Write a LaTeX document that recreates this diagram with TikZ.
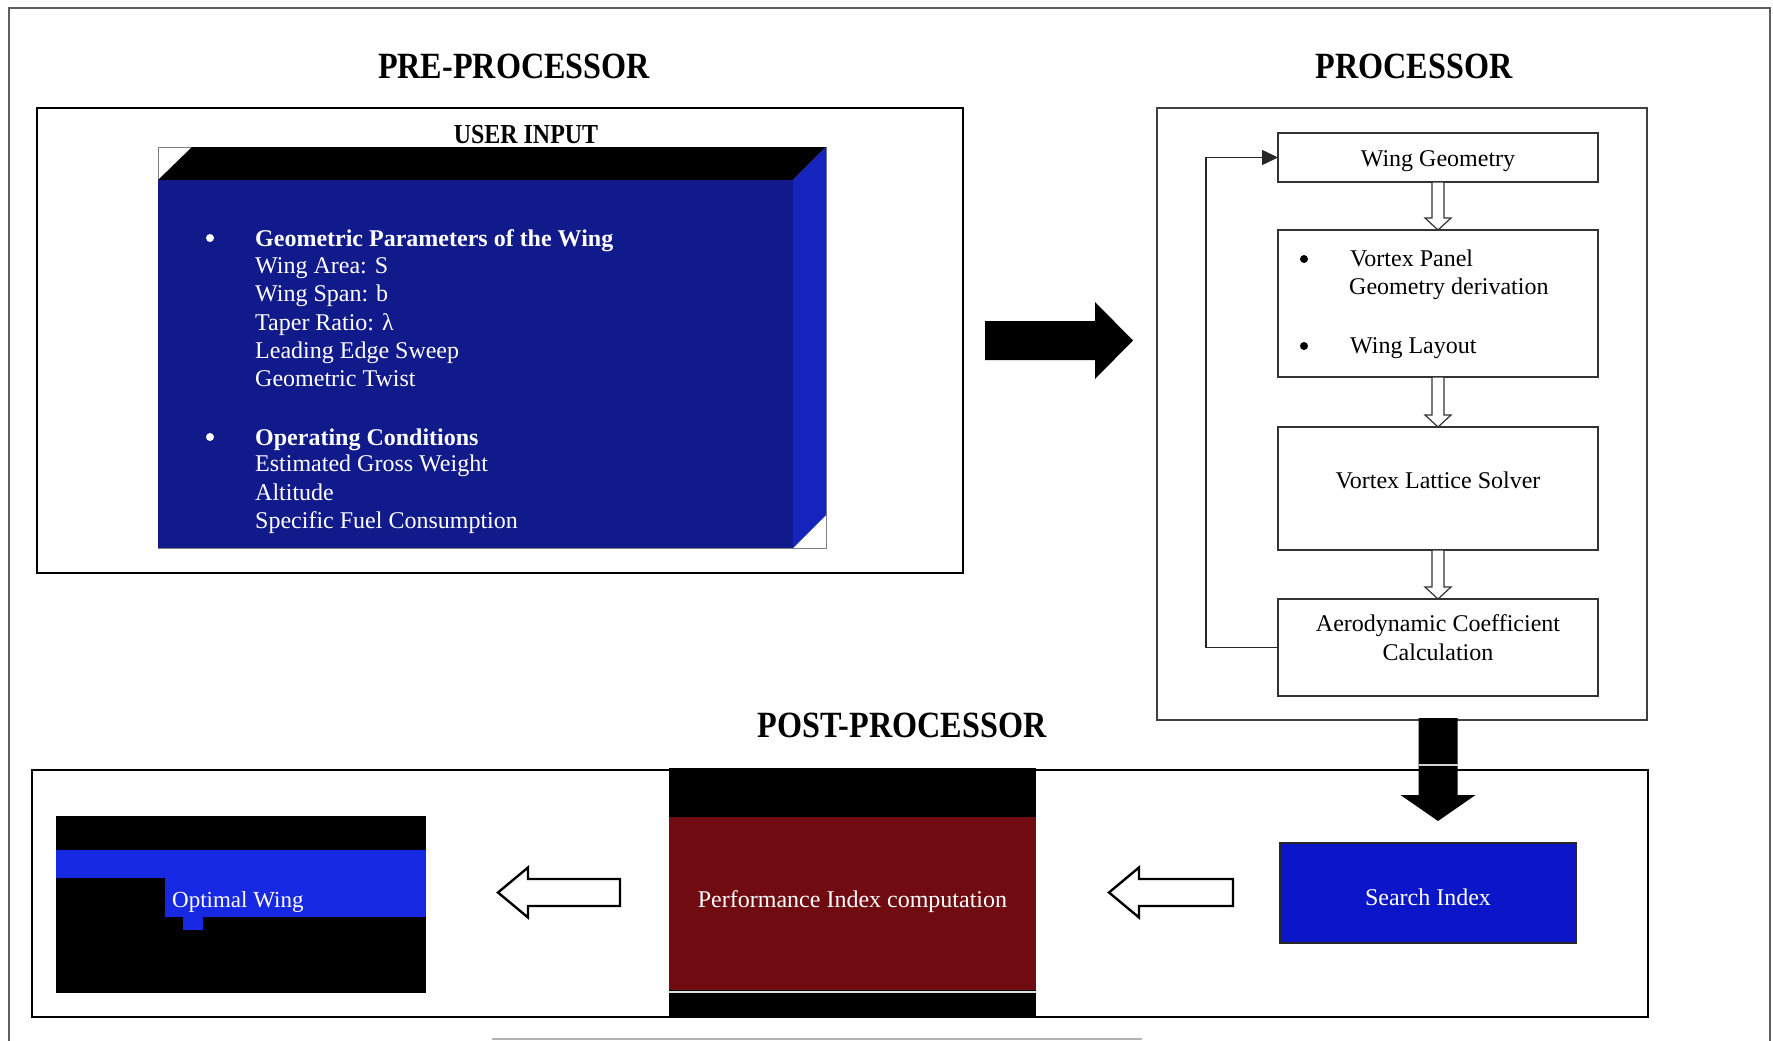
\documentclass[tikz,border=0pt]{standalone}
\usepackage{fontspec}
\setmainfont{Liberation Serif}
\newfontfamily\titlefont[FakeStretch=0.87]{Liberation Serif}
\usetikzlibrary{calc,arrows.meta}

\definecolor{navyface}{RGB}{17,26,138}
\definecolor{sideface}{RGB}{22,36,190}
\definecolor{brightblue}{RGB}{22,40,225}
\definecolor{searchblue}{RGB}{10,22,200}
\definecolor{perfred}{RGB}{112,12,17}
\definecolor{framegray}{RGB}{95,95,95}

\newcommand{\hollowdown}[2]{%
  \draw[smallarr] let \p1=(#1), \p2=(#2) in
    (\x1-6pt,\y1) -- (\x1+6pt,\y1) -- (\x1+6pt,\y2+12pt) -- (\x1+13pt,\y2+12pt)
    -- (\x1,\y2) -- (\x1-13pt,\y2+12pt) -- (\x1-6pt,\y2+12pt) -- cycle;}
\newcommand{\hollowleft}[2]{%
  \draw[bigarr] let \p1=(#1), \p2=(#2) in
    (\x1,\y1-13.5pt) -- (\x2+30pt,\y1-13.5pt) -- (\x2+30pt,\y1-25pt) -- (\x2,\y1)
    -- (\x2+30pt,\y1+25pt) -- (\x2+30pt,\y1+13.5pt) -- (\x1,\y1+13.5pt) -- cycle;}

\begin{document}
\begin{tikzpicture}[x=1pt,y=-1pt,
  ttl/.style={font=\titlefont\bfseries\fontsize{37}{40}\selectfont, anchor=base, inner sep=0pt},
  subttl/.style={font=\titlefont\bfseries\fontsize{27.5}{30}\selectfont, anchor=base, inner sep=0pt},
  panel/.style={draw=black, line width=2pt, anchor=north west, inner sep=0pt, outer sep=0pt},
  ppanel/.style={draw=black!75, line width=1.5pt, anchor=north west, inner sep=0pt, outer sep=0pt},
  stepbox/.style={draw=black!80, line width=1.5pt, anchor=north west, inner sep=0pt, outer sep=0pt},
  flat/.style={anchor=north west, inner sep=0pt, outer sep=0pt},
  wtxt/.style={text=white, font=\fontsize{24}{28}\selectfont, anchor=base west, inner sep=0pt},
  btxt/.style={text=black, font=\fontsize{24}{28}\selectfont, anchor=base west, inner sep=0pt},
  ctxt/.style={font=\fontsize{24}{28}\selectfont, anchor=base, inner sep=0pt},
  bul/.style={circle, inner sep=0pt, minimum size=8pt},
  smallarr/.style={draw=black!80, line width=1.2pt, fill=white},
  bigarr/.style={draw=black, line width=2.4pt, fill=white, line join=miter},
]
\useasboundingbox (0,0) rectangle (1773,1041);
\fill[white] (0,0) rectangle (1773,1041);

% outer frame
\draw[framegray, line width=1.5pt] (9,1041) -- (9,8) -- (1770,8) -- (1770,1041);
\draw[gray!60, line width=1.5pt] (492,1039) -- (1142,1039);

% titles
\node[ttl] (tpre) at (514,78) {PRE-PROCESSOR};
\node[ttl] (tproc) at (1414,78) {PROCESSOR};
\node[ttl] (tpost) at (902,737) {POST-PROCESSOR};

% ---------------- pre-processor ----------------
\node[panel, minimum width=926pt, minimum height=465pt] (pre) at (37,108) {};
\node[subttl] (uit) at (526,143) {USER INPUT};

\node[flat, fill=navyface, minimum width=635pt, minimum height=368pt] (uif) at (158,180) {};
\draw[gray, line width=0.8pt] (uif.south west) rectangle ($(uif.north east)+(33,-33)$);
\fill[black] (uif.north west) -- ++(34,-33) -- ($(uif.north east)+(33,-33)$) -- (uif.north east) -- cycle;
\fill[sideface] (uif.north east) -- ++(33,-33) -- ($(uif.south east)+(33,-33)$) -- (uif.south east) -- cycle;
\fill[navyface] (uif.north west) rectangle (uif.south east);

\node[bul, fill=white] (b1) at (210,238) {};
\node[bul, fill=white] (b2) at (210,437) {};
\node[wtxt, font=\bfseries\fontsize{24}{28}\selectfont] (p1) at (255,246) {Geometric Parameters of the Wing};
\node[wtxt] (p2) at (255,273) {Wing Area: S};
\node[wtxt] (p3) at (255,301) {Wing Span: b};
\node[wtxt] (p4) at (255,330) {Taper Ratio: λ};
\node[wtxt] (p5) at (255,358) {Leading Edge Sweep};
\node[wtxt] (p6) at (255,386) {Geometric Twist};
\node[wtxt, font=\bfseries\fontsize{24}{28}\selectfont] (p7) at (255,445) {Operating Conditions};
\node[wtxt] (p8) at (255,471) {Estimated Gross Weight};
\node[wtxt] (p9) at (255,500) {Altitude};
\node[wtxt] (p10) at (255,528) {Specific Fuel Consumption};

% ---------------- processor ----------------
\node[ppanel, minimum width=490pt, minimum height=612pt] (proc) at (1157,108) {};
\node[stepbox, minimum width=320pt, minimum height=49pt] (wg) at (1278,133) {};
\node[stepbox, minimum width=320pt, minimum height=147pt] (vp) at (1278,230) {};
\node[stepbox, minimum width=320pt, minimum height=123pt] (vl) at (1278,427) {};
\node[stepbox, minimum width=320pt, minimum height=97pt] (ac) at (1278,599) {};

\node[ctxt] (wgt) at (1438,166) {Wing Geometry};
\node[bul, fill=black] (vb1) at (1304,259) {};
\node[bul, fill=black] (vb2) at (1304,346) {};
\node[btxt] (vpt1) at (1350,266) {Vortex Panel};
\node[btxt] (vpt2) at (1349,294) {Geometry derivation};
\node[btxt] (vpt3) at (1350,353) {Wing Layout};
\node[ctxt] (vlt) at (1438,488) {Vortex Lattice Solver};
\node[ctxt] (act1) at (1438,631) {Aerodynamic Coefficient};
\node[ctxt] (act2) at (1438,660) {Calculation};

\hollowdown{wg.south}{vp.north}
\hollowdown{vp.south}{vl.north}
\hollowdown{vl.south}{ac.north}

\draw[black!85, line width=1.5pt, -{Triangle[length=16pt,width=15pt]}]
  (ac.west) -- ++(-72,0) |- (wg.west);

% big black right arrow
\coordinate (rstart) at ($(pre.east)+(22,0)$);
\coordinate (rtip) at ($(proc.west)+(-24,0)$);
\fill[black] let \p1=(rstart), \p2=(rtip) in
  (\x1,\y1-19.5pt) -- (\x2-38pt,\y1-19.5pt) -- (\x2-38pt,\y1-38.5pt) -- (\x2,\y1)
  -- (\x2-38pt,\y1+38.5pt) -- (\x2-38pt,\y1+19.5pt) -- (\x1,\y1+19.5pt) -- cycle;

% ---------------- post-processor ----------------
\node[panel, minimum width=1616pt, minimum height=247pt] (post) at (32,770) {};

% optimal wing
\node[flat, fill=black, minimum width=370pt, minimum height=177pt] (ow) at (56,816) {};
\fill[brightblue] ($(ow.north west)+(0,34)$) rectangle ($(ow.north east)+(0,62)$);
\fill[brightblue] ($(ow.north west)+(109,34)$) rectangle ($(ow.north east)+(0,101)$);
\fill[brightblue] ($(ow.north west)+(127,100)$) rectangle ($(ow.north west)+(147,114)$);
\node[wtxt, font=\fontsize{23}{27}\selectfont] (owt) at (172,907) {Optimal Wing};

% performance index
\node[flat, fill=black, minimum width=367pt, minimum height=249pt] (perf) at (669,768) {};
\fill[perfred] ($(perf.north west)+(0,49)$) rectangle ($(perf.north east)+(0,222)$);
\draw[gray!25, line width=1.5pt] ($(perf.north west)+(0,224)$) -- ($(perf.north east)+(0,224)$);
\node[ctxt, text=white] (perft) at ($(perf.north)+(0,139)$) {Performance Index computation};

% search index
\node[flat, fill=searchblue, draw=black!85, line width=2pt, minimum width=296pt, minimum height=100pt] (si) at (1280,843) {};
\node[ctxt, text=white] (sit) at ($(si.north)+(0,62)$) {Search Index};

% big black down arrow
\coordinate (dstart) at ($(ac.south |- proc.south)+(0,-2)$);
\coordinate (dtip) at ($(ac.south |- si.north)+(0,-22)$);
\fill[black] let \p1=(dstart), \p2=(dtip) in
  (\x1-19.5pt,\y1) -- (\x1+19.5pt,\y1) -- (\x1+19.5pt,\y2+26pt) -- (\x1+37.5pt,\y2+26pt)
  -- (\x1,\y2) -- (\x1-37.5pt,\y2+26pt) -- (\x1-19.5pt,\y2+26pt) -- cycle;
\draw[gray!35, line width=2pt] ($(dstart)+(-19.5,47)$) -- ($(dstart)+(19.5,47)$);

% hollow left arrows
\coordinate (l1s) at ($(perf.west)+(-49,0)$);
\coordinate (l1t) at ($(ow.east |- perf.west)+(72,0)$);
\hollowleft{l1s}{l1t}
\coordinate (l2s) at ($(si.west |- perf.east)+(-47,0)$);
\coordinate (l2t) at ($(perf.east)+(73,0)$);
\hollowleft{l2s}{l2t}

\end{tikzpicture}
\end{document}
